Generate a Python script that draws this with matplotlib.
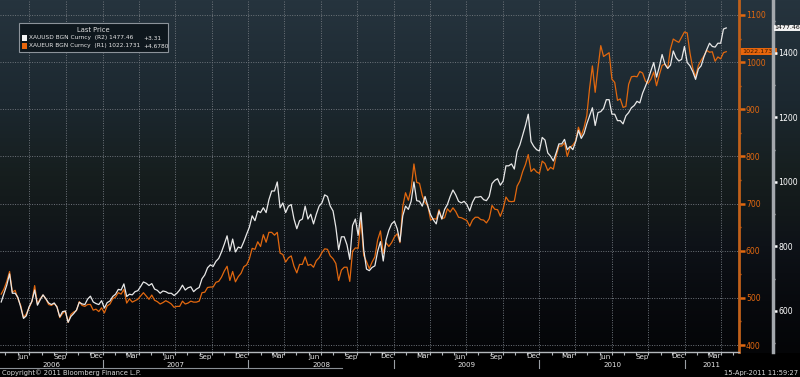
import numpy as np
import pandas as pd
import matplotlib
matplotlib.use('Agg')
import matplotlib.pyplot as plt
import matplotlib.dates as mdates
import matplotlib.transforms as mtrans
from matplotlib.patches import Rectangle
from matplotlib.ticker import MultipleLocator, FixedLocator
import datetime as dt

plt.rcParams['font.family'] = ['Liberation Sans Narrow', 'DejaVu Sans']

W, H = 800, 377

# ---------------- data (weekly) ----------------
dates = pd.date_range('2006-04-21', '2011-04-15', freq='W-FRI')

usd_2006 = [628, 654, 680, 715, 655, 655, 642, 612, 577, 585, 613, 630, 665, 618, 635,
            650, 638, 625, 620, 625, 612, 582, 598, 600, 565, 583, 592, 603, 627, 622,
            620, 637, 646, 628, 623, 620, 632]
usd_2007 = [609, 626, 631, 645, 652, 667, 665, 684, 645, 652, 650, 660, 663, 676, 690,
            686, 679, 685, 668, 664, 655, 662, 660, 655, 655, 648, 655, 665, 680, 665,
            672, 675, 660, 668, 673, 700, 712, 734, 743, 738, 754, 763, 783, 807, 833,
            786, 823, 783, 798, 795, 815, 838]
usd_2008 = [860, 895, 880, 910, 905, 920, 905, 945, 972, 972, 1000, 920, 935, 905, 925,
            930, 885, 855, 880, 885, 925, 885, 900, 870, 900, 925, 935, 960, 955, 925,
            910, 860, 790, 830, 830, 805, 760, 865, 885, 835, 905, 790, 730, 725, 735,
            740, 785, 815, 755, 820, 850, 870]
usd_2009 = [878, 855, 815, 895, 925, 915, 940, 1000, 942, 940, 925, 955, 925, 898, 882,
            870, 910, 885, 915, 930, 955, 975, 960, 940, 935, 940, 930, 910, 937, 953,
            953, 955, 945, 942, 955, 995, 1005, 1010, 990, 1003, 1050, 1050, 1056, 1040,
            1095, 1115, 1145, 1175, 1210, 1125, 1110, 1100]
usd_2010 = [1096, 1138, 1130, 1090, 1080, 1065, 1090, 1118, 1118, 1132, 1100, 1110, 1100,
            1125, 1160, 1135, 1150, 1180, 1205, 1230, 1175, 1215, 1218, 1228, 1255, 1255,
            1210, 1210, 1190, 1190, 1180, 1205, 1215, 1230, 1237, 1250, 1245, 1275, 1296,
            1318, 1345, 1370, 1325, 1357, 1395, 1365, 1352, 1362, 1406, 1385, 1375, 1380,
            1420]
usd_2011 = [1370, 1360, 1342, 1318, 1350, 1360, 1388, 1410, 1430, 1420, 1418, 1430, 1430,
            1474, 1477.46]

eur_2006 = [508, 519, 535, 556, 512, 516, 498, 484, 458, 466, 479, 492, 526, 487, 498,
            506, 498, 486, 484, 488, 482, 458, 467, 472, 448, 465, 470, 473, 492, 484,
            482, 486, 486, 474, 476, 471, 479]
eur_2007 = [468, 483, 487, 498, 502, 511, 508, 518, 489, 498, 491, 494, 497, 504, 511,
            504, 497, 506, 495, 492, 487, 490, 494, 491, 487, 480, 482, 482, 493, 487,
            489, 493, 491, 491, 493, 511, 512, 522, 523, 523, 533, 535, 544, 557, 567,
            537, 556, 534, 545, 552, 566, 570]
eur_2008 = [583, 605, 603, 619, 609, 634, 618, 639, 639, 633, 639, 595, 592, 576, 585,
            589, 567, 553, 571, 571, 587, 569, 571, 565, 579, 585, 596, 604, 603, 589,
            583, 573, 537, 559, 565, 565, 535, 599, 606, 605, 665, 590, 577, 562, 576,
            587, 623, 642, 594, 617, 609, 617]
eur_2009 = [629, 636, 617, 694, 723, 707, 731, 784, 745, 743, 717, 702, 695, 665, 668,
            667, 687, 668, 670, 689, 682, 691, 683, 671, 670, 667, 664, 652, 665, 671,
            671, 666, 665, 659, 668, 696, 688, 687, 673, 689, 714, 705, 704, 705, 737,
            748, 768, 783, 804, 768, 774, 767]
eur_2010 = [764, 790, 785, 770, 777, 773, 801, 822, 822, 829, 800, 819, 824, 833, 862,
            844, 861, 887, 945, 992, 936, 988, 1035, 1012, 1016, 1020, 964, 957, 919, 922,
            904, 906, 953, 969, 970, 969, 980, 977, 960, 955, 964, 979, 950, 973, 993,
            996, 987, 1028, 1049, 1045, 1042, 1053, 1064]
eur_2011 = [1062, 1019, 987, 969, 993, 1004, 1013, 1025, 1021, 1022, 1002, 1011, 1007,
            1020, 1022.1731]

xauusd = usd_2006 + usd_2007 + usd_2008 + usd_2009 + usd_2010 + usd_2011
xaueur = eur_2006 + eur_2007 + eur_2008 + eur_2009 + eur_2010 + eur_2011

month_labels = ['Mar', 'Jun', 'Sep', 'Dec']
years = [2006, 2007, 2008, 2009, 2010, 2011]
legend_title = 'Last Price'
legend_rows = [('XAUUSD BGN Curncy  (R2) 1477.46', '+3.31'),
               ('XAUEUR BGN Curncy  (R1) 1022.1731', '+4.6780')]

# ---------------- styling ----------------
ORANGE = '#e2680f'
ORANGE_SP = '#c0601a'
WHITE = '#e8e8e8'
GRID = '#6e747b'

fig = plt.figure(figsize=(W / 100, H / 100), dpi=100)
fig.patch.set_facecolor('black')

# background gradient
bg = fig.add_axes([0, 0, 1, 1], zorder=0)
rows = np.arange(H)
sy = [0, 100, 175, 215, 245, 300, 352, 353, 377]
cr = [38, 28, 22, 18, 14, 8, 4, 0, 0]
cg = [52, 40, 30, 24, 18, 10, 5, 0, 0]
cb = [62, 48, 30, 26, 24, 14, 7, 0, 0]
grad = np.stack([np.interp(rows, sy, cr), np.interp(rows, sy, cg),
                 np.interp(rows, sy, cb)], axis=-1)[:, None, :] / 255.0
bg.imshow(grad, extent=[0, 1, 0, 1], aspect='auto', origin='upper')
bg.set_axis_off()

def fx(p):
    return p / W

def fy(p):
    return 1 - p / H

ax_left, ax_bottom = 0, (H - 352) / H
ax_w, ax_h = 739 / W, 352 / H
ax = fig.add_axes([ax_left, ax_bottom, ax_w, ax_h], zorder=2)
ax.patch.set_alpha(0)
ax2 = ax.twinx()
ax2.patch.set_alpha(0)

x0 = dt.date(2006, 4, 18)
x1 = x0 + dt.timedelta(days=1855)
ax.set_xlim(mdates.date2num(x0), mdates.date2num(x1))
ax.set_ylim(385.2, 1131.8)
ax2.set_ylim(472.9, 1564)

ax.plot(dates, xaueur, color=ORANGE, lw=0.9, zorder=3)
ax2.plot(dates, xauusd, color=WHITE, lw=0.9, zorder=4)

# spines
for s in ['left', 'top']:
    ax.spines[s].set_visible(False)
ax.spines['right'].set_color(ORANGE_SP)
ax.spines['right'].set_linewidth(2)
ax.spines['bottom'].set_color('#b4b8bc')
ax.spines['bottom'].set_linewidth(1)
for s in ['left', 'top', 'bottom']:
    ax2.spines[s].set_visible(False)
ax2.spines['right'].set_position(('axes', 773 / 739))
ax2.spines['right'].set_color('#a4a8ad')
ax2.spines['right'].set_linewidth(2.5)

# y ticks
ax.yaxis.set_ticks_position('right')
ax.yaxis.set_major_locator(FixedLocator(list(range(400, 1101, 100))))
ax.yaxis.set_minor_locator(MultipleLocator(50))
ax.tick_params(axis='y', which='major', direction='out', length=4, width=1.8,
               color=ORANGE, labelcolor=ORANGE, labelsize=5.6, pad=1)
ax.tick_params(axis='y', which='minor', direction='out', length=1.5, width=1,
               color=ORANGE)
ax2.yaxis.set_major_locator(FixedLocator(list(range(600, 1401, 200))))
ax2.yaxis.set_minor_locator(MultipleLocator(100))
ax2.tick_params(axis='y', which='major', direction='out', length=3, width=1.8,
                color='white', labelcolor='white', labelsize=5.6, pad=1)
ax2.tick_params(axis='y', which='minor', direction='out', length=1.5, width=1,
                color='#cccccc')

# x ticks
ax.xaxis.set_major_locator(mdates.MonthLocator(bymonth=[1, 4, 7, 10]))
ax.xaxis.set_minor_locator(mdates.MonthLocator())
ax.tick_params(axis='x', which='both', direction='out', length=2, width=0.8,
               color='#b4b8bc', labelbottom=False)

# grids
ax.grid(axis='y', which='major', color=GRID, linestyle=(0, (1, 1.5)), lw=0.7)
ax.grid(axis='x', which='major', color=GRID, linestyle=(0, (1, 1.5)), lw=0.7)
ax.set_axisbelow(True)

# month / year labels
trx = mtrans.blended_transform_factory(ax.transData, fig.transFigure)
mnum = {'Mar': 3, 'Jun': 6, 'Sep': 9, 'Dec': 12}
xmin, xmax = ax.get_xlim()
for yr in years:
    for m in month_labels:
        d = mdates.date2num(dt.date(yr, mnum[m], 15))
        if xmin + 5 < d < xmax - 5:
            fig.text(d, fy(356.5), m, transform=trx, ha='center', va='center',
                     fontsize=5.1, color='#e6e6e6')
for yr in years:
    a = max(mdates.date2num(dt.date(yr, 1, 1)), xmin)
    b = min(mdates.date2num(dt.date(yr + 1, 1, 1)), xmax)
    fig.text((a + b) / 2, fy(364.6), str(yr), transform=trx, ha='center',
             va='center', fontsize=5.1, color='#e6e6e6')
    if yr > years[0]:
        d = mdates.date2num(dt.date(yr, 1, 1))
        fig.add_artist(plt.Line2D([d, d], [fy(359.5), fy(367.5)], transform=trx,
                                  color='#9a9fa4', lw=0.8))
fig.add_artist(plt.Line2D([0, fx(342)], [fy(367.8), fy(367.8)],
                          transform=fig.transFigure, color='#8a8f94', lw=0.8))

fig.text(fx(2), fy(372.5), 'Copyright\u00a9 2011 Bloomberg Finance L.P.', ha='left',
         va='center', fontsize=4.9, color='#d8d8d8')
fig.text(fx(798), fy(372.5), '15-Apr-2011 11:59:27', ha='right', va='center',
         fontsize=4.9, color='#d8d8d8')

# last price tags
tro = mtrans.blended_transform_factory(ax.transAxes, ax.transData)
ax.text(1.004, xaueur[-1], '%.4f' % xaueur[-1], transform=tro, ha='left', va='center',
        fontsize=4.6, color='#3a1800', zorder=10, clip_on=False,
        bbox=dict(boxstyle='square,pad=0.12', fc='#e8660c', ec='none'))
trw = mtrans.blended_transform_factory(ax2.transAxes, ax2.transData)
ax2.text(774.5 / 739, xauusd[-1], '%.2f' % xauusd[-1], transform=trw, ha='left',
         va='center', fontsize=4.5, color='black', zorder=10, clip_on=False,
         bbox=dict(boxstyle='square,pad=0.1', fc='#f0f0f0', ec='none'))

# legend
fig.add_artist(Rectangle((fx(19), fy(52)), 149 / W, 29 / H, transform=fig.transFigure,
                         fc='#0e171d', ec='#8c939a', lw=0.8, zorder=5))
fig.text(fx(93), fy(30.5), legend_title, ha='center', va='center', fontsize=4.9,
         color='#e0e0e0', zorder=6)
sq_cols = ['#f4f4f4', '#e8660c']
for i, (lab, chg) in enumerate(legend_rows):
    yc = 38 + 8 * i
    fig.add_artist(Rectangle((fx(22), fy(yc + 2.5)), 5 / W, 5 / H,
                             transform=fig.transFigure, fc=sq_cols[i], ec='none',
                             zorder=6))
    fig.text(fx(29), fy(yc), lab, ha='left', va='center', fontsize=4.2,
             color='#e6e6e6', zorder=6)
    fig.text(fx(143.5), fy(yc), chg, ha='left', va='center', fontsize=4.2,
             color='#e6e6e6', zorder=6)

fig.savefig('out.png', dpi=100, facecolor=fig.get_facecolor())
